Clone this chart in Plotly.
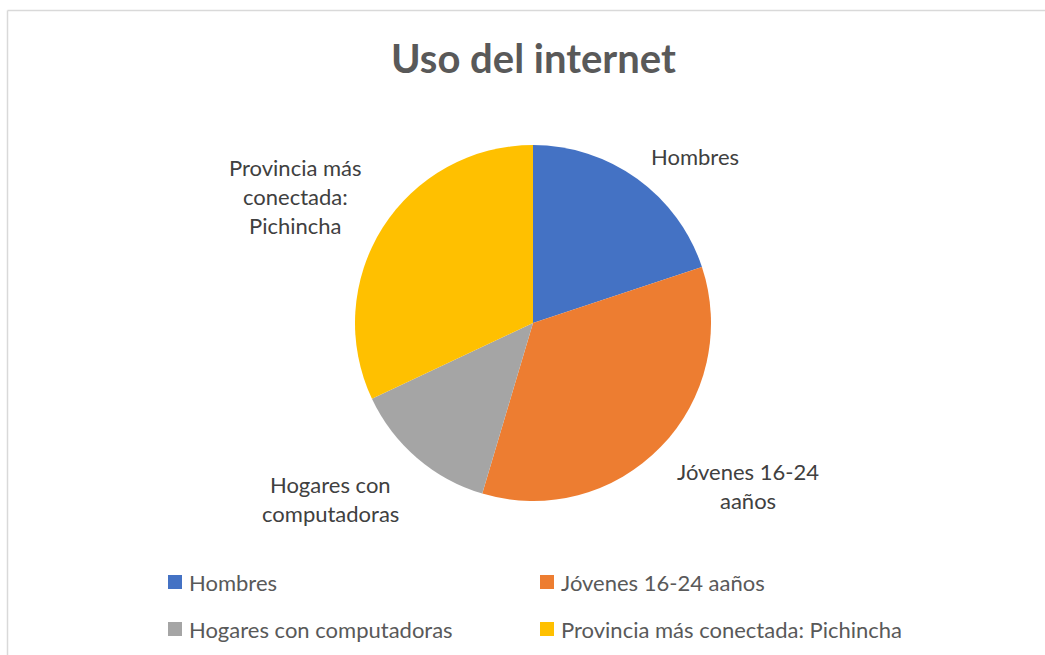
import plotly.graph_objects as go

W, H = 1045, 655

categories = ["Hombres", "Jóvenes 16-24 aaños", "Hogares con computadoras",
              "Provincia más conectada: Pichincha"]
values = [19.9, 34.7, 13.4, 32.0]
colors = ["#4472C4", "#ED7D31", "#A5A5A5", "#FFC000"]
# data-label text as wrapped in the chart
label_lines = [["Hombres"], ["Jóvenes 16-24", "aaños"], ["Hogares con", "computadoras"],
               ["Provincia más", "conectada:", "Pichincha"]]
label_pos = [(695, 156), (748, 471), (330, 484), (295, 167)]  # first-line centre (px)

cx, cy, r = 533, 323, 178

def px(x):
    return x / W

def py(y):
    return 1 - y / H

fig = go.Figure(go.Pie(
    labels=categories, values=values, sort=False, direction="clockwise", rotation=0,
    marker=dict(colors=colors, line=dict(color="white", width=0)),
    textinfo="none", showlegend=False,
    domain=dict(x=[px(cx - r), px(cx + r)], y=[py(cy + r), py(cy - r)]),
))

ann = []
ann.append(dict(text="<b>Uso del internet</b>", x=px(533), y=py(58), xref="paper", yref="paper",
                showarrow=False, font=dict(family="Lato", size=40, color="#595959"),
                xanchor="center", yanchor="middle"))
for lines, (lx, ly) in zip(label_lines, label_pos):
    for i, t in enumerate(lines):
        ann.append(dict(text=t, x=px(lx), y=py(ly + i * 29), xref="paper", yref="paper",
                        showarrow=False, font=dict(family="Lato", size=22, color="#404040"),
                        xanchor="center", yanchor="middle"))

shapes = [
    dict(type="line", xref="paper", yref="paper", x0=px(7.5), x1=1, y0=py(10.5), y1=py(10.5),
         line=dict(color="#D9D9D9", width=1.5)),
    dict(type="line", xref="paper", yref="paper", x0=px(7.5), x1=px(7.5), y0=py(10.5), y1=0,
         line=dict(color="#D9D9D9", width=1.5)),
]
# legend (2 columns x 2 rows)
leg_x = [168, 540]
leg_y = [582, 629]
for k, (cat, col) in enumerate(zip(categories, colors)):
    lx = leg_x[k % 2]
    ly = leg_y[k // 2]
    shapes.append(dict(type="rect", xref="paper", yref="paper",
                       x0=px(lx), x1=px(lx + 14), y0=py(ly + 7), y1=py(ly - 7),
                       fillcolor=col, line=dict(width=0)))
    ann.append(dict(text=cat, x=px(lx + 19), y=py(ly), xref="paper", yref="paper",
                    showarrow=False, font=dict(family="Lato", size=22, color="#595959"),
                    xanchor="left", yanchor="middle"))

fig.update_layout(
    width=W, height=H, margin=dict(l=0, r=0, t=0, b=0),
    paper_bgcolor="white", plot_bgcolor="white",
    annotations=ann, shapes=shapes,
)

fig.write_html("out.html", config={"displayModeBar": False},
               post_script="document.body.style.margin='0';")
